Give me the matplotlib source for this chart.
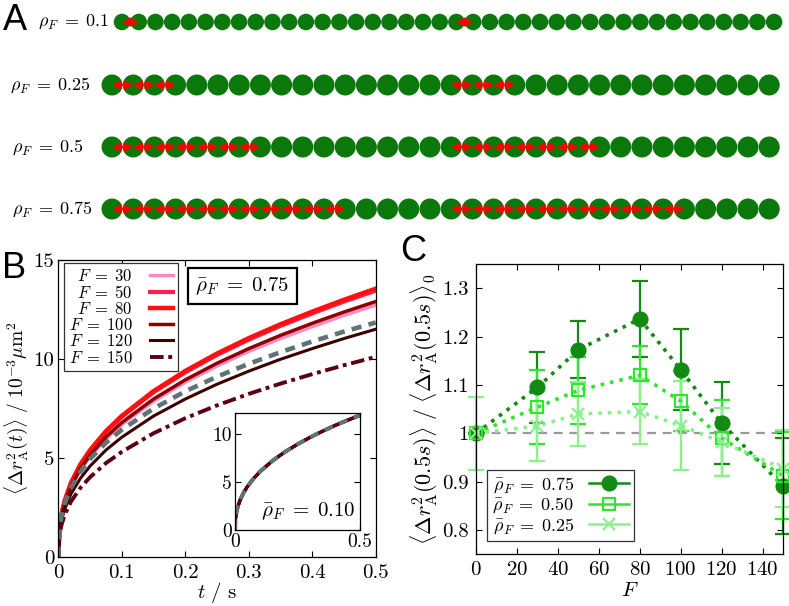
import numpy as np
import matplotlib
matplotlib.use("Agg")
import matplotlib.pyplot as plt
from matplotlib.patches import Circle, FancyArrowPatch
from matplotlib.lines import Line2D

plt.rcParams['font.family'] = ['cmr10', 'DejaVu Serif']
plt.rcParams['mathtext.fontset'] = 'cm'
plt.rcParams['axes.formatter.use_mathtext'] = True
plt.rcParams['axes.unicode_minus'] = False

# ---- panel A: bead chains ----
rho_labels = ['0.1', '0.25', '0.5', '0.75']
n_beads = [40, 32, 32, 32]
n_linked = [2, 4, 8, 12]   # linked beads in each half of the chain

# ---- panel B: MSD curves ----
t = [0, 0.002, 0.005, 0.01, 0.02, 0.035, 0.05, 0.075, 0.1, 0.15, 0.2,
     0.25, 0.3, 0.35, 0.4, 0.45, 0.5]
msd_F30 = [0, 1.40, 2.02, 2.66, 3.51, 4.39, 5.06, 5.96, 6.69, 7.86, 8.82,
           9.64, 10.38, 11.03, 11.63, 12.20, 12.72]
msd_F50 = [0, 1.48, 2.13, 2.81, 3.71, 4.65, 5.35, 6.31, 7.07, 8.31, 9.32,
           10.20, 10.97, 11.67, 12.30, 12.90, 13.45]
msd_F80 = [0, 1.49, 2.15, 2.83, 3.74, 4.68, 5.39, 6.35, 7.12, 8.37, 9.39,
           10.27, 11.05, 11.75, 12.39, 12.99, 13.55]
msd_F100 = [0, 1.42, 2.05, 2.69, 3.56, 4.46, 5.13, 6.05, 6.78, 7.97, 8.94,
            9.78, 10.52, 11.19, 11.80, 12.37, 12.90]
msd_F120 = [0, 1.27, 1.83, 2.40, 3.18, 3.97, 4.58, 5.39, 6.04, 7.11, 7.97,
            8.72, 9.38, 9.98, 10.52, 11.03, 11.50]
msd_F150 = [0, 1.11, 1.60, 2.11, 2.79, 3.49, 4.02, 4.73, 5.30, 6.24, 7.00,
            7.65, 8.23, 8.75, 9.23, 9.68, 10.10]
msd_ref = [0, 1.45, 2.06, 2.68, 3.48, 4.31, 4.94, 5.76, 6.42, 7.49, 8.36,
           9.10, 9.75, 10.34, 10.88, 11.38, 11.84]
msd_inset = [0, 1.17, 1.72, 2.30, 3.08, 3.90, 4.52, 5.36, 6.05, 7.18, 8.10,
             8.89, 9.60, 10.24, 10.84, 11.38, 11.90]
F_labels = ['30', '50', '80', '100', '120', '150']

# ---- panel C: normalised MSD at 0.5 s ----
F_vals = [0, 30, 50, 80, 100, 120, 150]
r75 = [1.0, 1.095, 1.173, 1.237, 1.132, 1.021, 0.891]
e75 = [0.0, 0.074, 0.059, 0.079, 0.084, 0.085, 0.100]
r50 = [1.0, 1.054, 1.089, 1.120, 1.067, 0.990, 0.912]
e50 = [0.0, 0.077, 0.070, 0.060, 0.062, 0.078, 0.090]
r25 = [1.0, 1.015, 1.040, 1.045, 1.016, 0.982, 0.927]
e25 = [0.075, 0.073, 0.067, 0.067, 0.093, 0.070, 0.080]

W, H = 789, 606
fig = plt.figure(figsize=(W / 100, H / 100), dpi=100)


def px_axes(x0, y0, x1, y1):
    return fig.add_axes([x0 / W, 1 - y1 / H, (x1 - x0) / W, (y1 - y0) / H])


# ================= A =================
axA = px_axes(0, 0, W, 230)
axA.set_xlim(0, W)
axA.set_ylim(230, 0)
axA.axis('off')
bead_green = '#0b780b'
row_y = [22, 85, 147, 209]
first_x = [122, 112, 112, 112]
spacing = [16.72, 21.2, 21.2, 21.2]
label_x = [38, 10, 12, 12]
for i in range(4):
    xs = first_x[i] + spacing[i] * np.arange(n_beads[i])
    for x in xs:
        axA.add_patch(Circle((x, row_y[i]), spacing[i] / 2 * 0.99,
                             color=bead_green, lw=0))
    half = n_beads[i] // 2
    for start in (0, half):
        for k in range(start, start + n_linked[i] - 1):
            axA.add_patch(FancyArrowPatch((xs[k], row_y[i]), (xs[k + 1], row_y[i]),
                                          arrowstyle='<|-|>,head_length=0.42,head_width=0.22',
                                          mutation_scale=12, color='#ff0000', lw=1.2,
                                          shrinkA=0, shrinkB=0))
    axA.text(label_x[i], row_y[i], r'$\rho_F\;=\;%s$' % rho_labels[i],
             fontsize=13, ha='left', va='center')

fig.text(15 / W, 1 - 21 / H, 'A', fontsize=26, family='Liberation Sans',
         ha='center', va='center')
fig.text(14 / W, 1 - 268 / H, 'B', fontsize=26, family='Liberation Sans',
         ha='center', va='center')
fig.text(413 / W, 1 - 252 / H, 'C', fontsize=26, family='Liberation Sans',
         ha='center', va='center')


def style_ticks(ax, size=14):
    ax.tick_params(direction='in', top=True, right=True, length=4,
                   width=0.8, labelsize=size, pad=5)
    for s in ax.spines.values():
        s.set_linewidth(0.9)


# ================= B =================
axB = px_axes(58.3, 260, 375.7, 556.7)
colors = ['#ff88c0', '#ff1f4f', '#ff1010', '#8e0000', '#3d0000', '#5a0010']
lws = [2.5, 3.0, 3.2, 2.5, 2.2, 2.8]
curves = [msd_F30, msd_F50, msd_F80, msd_F100, msd_F120, msd_F150]
for j in range(6):
    ls = (0, (3.5, 1.2, 1, 1.2)) if j == 5 else '-'
    axB.plot(t, curves[j], color=colors[j], lw=lws[j], ls=ls,
             label=r'$F\;=\;%s$' % F_labels[j])
axB.plot(t, msd_ref, color='#5e7474', lw=3.3, dashes=(2.2, 1.6))
axB.set_xlim(0, 0.5)
axB.set_ylim(0, 15)
axB.set_xticks([0, 0.1, 0.2, 0.3, 0.4, 0.5])
axB.set_xticklabels(['0', '0.1', '0.2', '0.3', '0.4', '0.5'])
axB.set_yticks([0, 5, 10, 15])
axB.set_yticklabels(['0', '5', '10', '15'])
style_ticks(axB, 15)
axB.tick_params(axis='y', pad=3)
axB.set_xlabel(r'$t\ /\ {\rm s}$', fontsize=15, labelpad=-1)
axB.set_ylabel(r'$\langle \Delta r_{\rm A}^2(t)\rangle\ /\ 10^{-3}\mu{\rm m}^2$',
               fontsize=14, labelpad=2)
legB = axB.legend(loc='upper left', bbox_to_anchor=(0.018, 0.99), fontsize=12,
                  markerfirst=False, handlelength=1.4, labelspacing=0.0,
                  borderpad=0.3, handletextpad=1.0, borderaxespad=0,
                  fancybox=False, edgecolor='#333333', framealpha=1)
legB.get_frame().set_linewidth(0.9)
axB.text(0.58, 0.912, r'$\bar{\rho}_F\;=\;0.75$', transform=axB.transAxes,
         fontsize=15, ha='center', va='center',
         bbox=dict(boxstyle='square,pad=0.35', fc='white', ec='black', lw=1.6))

# inset
axI = px_axes(235, 413.3, 360, 530)
for j in range(6):
    axI.plot(t, msd_inset, color=colors[j], lw=2.2)
axI.plot(t, msd_inset, color='#5e7474', lw=3.0, dashes=(2.2, 1.6))
axI.set_xlim(0, 0.5)
axI.set_ylim(0, 12.1)
axI.set_xticks([0, 0.5])
axI.set_xticklabels(['0', '0.5'])
axI.set_yticks([0, 5, 10])
axI.set_yticklabels(['0', '5', '10'])
style_ticks(axI, 14)
axI.tick_params(pad=2)
axI.text(0.96, 0.07, r'$\bar{\rho}_F\;=\;0.10$', transform=axI.transAxes,
         fontsize=15, ha='right', va='bottom')

# ================= C =================
axC = px_axes(476, 264.3, 783, 554)
axC.axhline(1.0, color='#999999', lw=1.6, ls=(0, (4, 3)), zorder=1)
c75, c50, c25 = '#138a13', '#2ee62e', '#8eef8e'
series = [(r75, e75, c75, 'o', c75, r'$\bar{\rho}_F\;=\;0.75$'),
          (r50, e50, c50, 's', 'none', r'$\bar{\rho}_F\;=\;0.50$'),
          (r25, e25, c25, 'x', 'none', r'$\bar{\rho}_F\;=\;0.25$')]
handles, labels = [], []
for vals, errs, col, mk, fc, lab in series:
    axC.errorbar(F_vals, vals, yerr=errs, color=col, marker=mk, mfc=fc, mec=col,
                 ms=10 if mk == 'o' else 9, mew=1.6, ls=':', lw=2.6,
                 elinewidth=1.6, capsize=6, capthick=1.6, clip_on=False)
    handles.append(Line2D([], [], color=col, marker=mk, mfc=fc, mec=col,
                          ms=10 if mk == 'o' else 9, mew=1.6, lw=1.8))
    labels.append(lab)
axC.set_xlim(0, 150)
axC.set_ylim(0.75, 1.35)
axC.set_xticks([0, 20, 40, 60, 80, 100, 120, 140])
axC.set_yticks([0.8, 0.9, 1.0, 1.1, 1.2, 1.3])
axC.set_yticklabels(['0.8', '0.9', '1', '1.1', '1.2', '1.3'])
style_ticks(axC, 15)
axC.set_xlabel(r'$F$', fontsize=15, labelpad=2)
axC.set_ylabel(r'$\langle \Delta r_{\rm A}^2(0.5s)\rangle\ /\ \langle \Delta r_{\rm A}^2(0.5s)\rangle_0$',
               fontsize=16, labelpad=2)
legC = axC.legend(handles, labels, loc='lower left',
                  bbox_to_anchor=(0.036, 0.045), fontsize=13, markerfirst=False,
                  handlelength=2.2, labelspacing=0.05, borderpad=0.3,
                  borderaxespad=0, fancybox=False, edgecolor='#333333',
                  framealpha=1)
legC.get_frame().set_linewidth(0.9)

fig.savefig('out.png', dpi=100)
